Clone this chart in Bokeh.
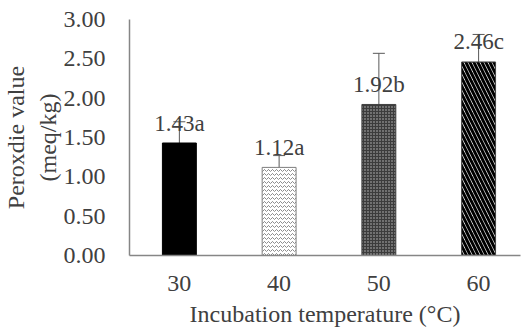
from bokeh.plotting import figure
from bokeh.models import ColumnDataSource, Whisker, TeeHead, FixedTicker, LabelSet
from bokeh.embed import file_html
from bokeh.resources import INLINE

categories = ["30", "40", "50", "60"]
values = [1.43, 1.12, 1.92, 2.46]
errors = [0.27, 0.15, 0.65, 0.35]
letters = ["a", "a", "b", "c"]
y_ticks = [0.0, 0.5, 1.0, 1.5, 2.0, 2.5, 3.0]

xs = list(range(1, len(categories) + 1))
labels = ["%.2f%s" % (v, l) for v, l in zip(values, letters)]
src = ColumnDataSource(dict(
    x=xs, top=values,
    upper=[v + e for v, e in zip(values, errors)],
    lower=[v - e for v, e in zip(values, errors)],
    label=labels,
))

FONT = "'Liberation Serif', 'Times New Roman', serif"
TXT = "#404040"
FS = "24px"

p = figure(width=521, height=329, x_range=(0.5, 4.42), y_range=(0, 3.0),
           output_backend="svg", toolbar_location=None,
           min_border_left=128, min_border_top=19, min_border_bottom=73, min_border_right=1)
p.outline_line_color = None
p.xgrid.visible = False
p.ygrid.visible = False

styles = [
    dict(fill_color="black", line_color="black", hatch_pattern=None),
    dict(fill_color="white", line_color="#7f7f7f", hatch_pattern="horizontal_wave",
         hatch_color="#8c8c8c", hatch_scale=4, hatch_weight=1),
    dict(fill_color="#3c3c3c", line_color="#404040", hatch_pattern="dot",
         hatch_color="#bfbfbf", hatch_scale=3, hatch_weight=1),
    dict(fill_color="white", line_color="#404040", hatch_pattern="\\",
         hatch_color="black", hatch_scale=8, hatch_weight=3),
]
for i, st in enumerate(styles):
    s = ColumnDataSource(dict(x=[xs[i]], top=[values[i]]))
    kw = dict(st)
    if kw["hatch_pattern"] is None:
        kw.pop("hatch_pattern")
    p.vbar(x="x", top="top", bottom=0, width=0.34, source=s, line_width=1, **kw)

w = Whisker(base="x", upper="upper", lower="lower", source=src,
            line_color="#595959", line_width=1,
            upper_head=TeeHead(size=12, line_color="#595959", line_width=1),
            lower_head=TeeHead(size=12, line_color="#595959", line_width=1))
p.add_layout(w)

lbl = LabelSet(x="x", y="top", text="label", source=src, text_align="center",
               text_baseline="middle", y_offset=20, text_font=FONT,
               text_font_size="23px", text_color=TXT)
p.add_layout(lbl)

p.xaxis.ticker = FixedTicker(ticks=xs)
p.xaxis.major_label_overrides = {x: c for x, c in zip(xs, categories)}
p.yaxis.ticker = FixedTicker(ticks=y_ticks)
p.yaxis.major_label_overrides = {t: "%.2f" % t for t in y_ticks}

for ax in (p.xaxis, p.yaxis):
    ax.axis_line_color = "#868686"
    ax.axis_line_width = 1.5
    ax.major_tick_line_color = None
    ax.minor_tick_line_color = None
    ax.major_label_text_font = FONT
    ax.major_label_text_font_size = FS
    ax.major_label_text_color = TXT
    ax.axis_label_text_font = FONT
    ax.axis_label_text_font_size = FS
    ax.axis_label_text_font_style = "normal"
    ax.axis_label_text_color = TXT

p.xaxis.major_label_standoff = 14
p.yaxis.major_label_standoff = 18
p.xaxis.axis_label = "Incubation temperature (°C)"
p.xaxis.axis_label_standoff = 7
p.yaxis.axis_label = "Peroxdie value\n(meq/kg)"
p.yaxis.axis_label_standoff = 0

open("out.html", "w").write(file_html(p, INLINE))
